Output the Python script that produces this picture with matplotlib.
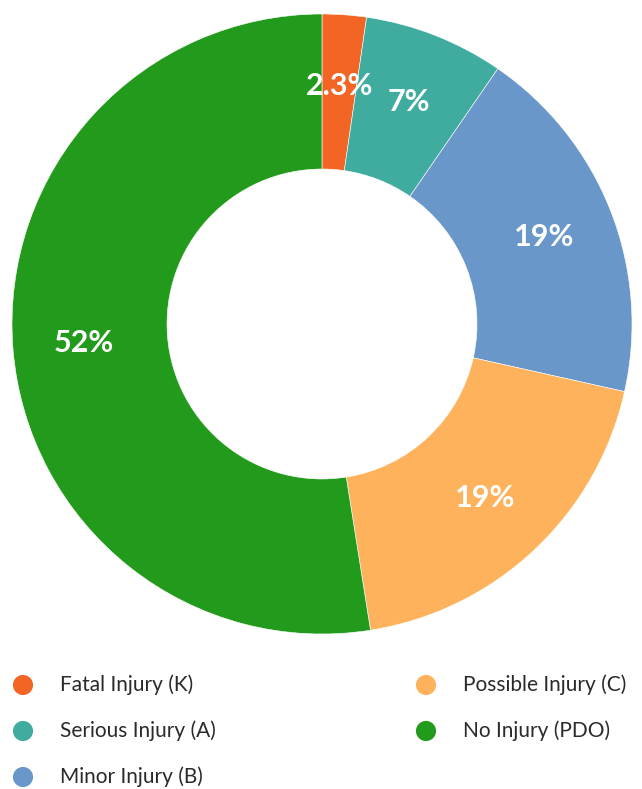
import matplotlib
matplotlib.use("Agg")
import matplotlib.pyplot as plt
import numpy as np

categories = ["Fatal Injury (K)", "Serious Injury (A)", "Minor Injury (B)",
              "Possible Injury (C)", "No Injury (PDO)"]
values = [2.3, 7.3, 18.9, 19.0, 52.5]
pct_labels = ["2.3%", "7%", "19%", "19%", "52%"]
colors = ["#F26524", "#40AC9F", "#6A97C9", "#FDB25B", "#229A1B"]

W, H = 642, 789
fig = plt.figure(figsize=(W / 100, H / 100), dpi=100)
fig.patch.set_facecolor("white")

cx, cy, R = 322, 324, 310
ax = fig.add_axes([(cx - R) / W, (H - cy - R) / H, 2 * R / W, 2 * R / H])
wedges, _ = ax.pie(values, colors=colors, startangle=90, counterclock=False,
                   radius=1.0, wedgeprops=dict(width=0.5, edgecolor="white", linewidth=0.4))
ax.set_xlim(-1, 1)
ax.set_ylim(-1, 1)
ax.set_aspect("equal")
ax.axis("off")

for w, lab in zip(wedges, pct_labels):
    th = np.deg2rad((w.theta1 + w.theta2) / 2)
    d = 0.77
    ax.text(d * np.cos(th), d * np.sin(th), lab, ha="center", va="center",
            color="white", fontsize=22, fontweight="bold", family="Lato")

# legend
lax = fig.add_axes([0, 0, 1, 150 / H])
lax.set_xlim(0, W)
lax.set_ylim(H, H - 150)
lax.axis("off")
for i, (name, col) in enumerate(zip(categories, colors)):
    c, r = i // 3, i % 3
    x0 = 23 + c * 403
    y0 = 685 + r * 46
    lax.scatter([x0], [y0], s=210, color=col, edgecolors="none")
    lax.text(x0 + 37, y0, name, ha="left", va="center", fontsize=15,
             color="#2a2a2a", family="Lato")

fig.savefig("out.png", dpi=100, facecolor="white")
